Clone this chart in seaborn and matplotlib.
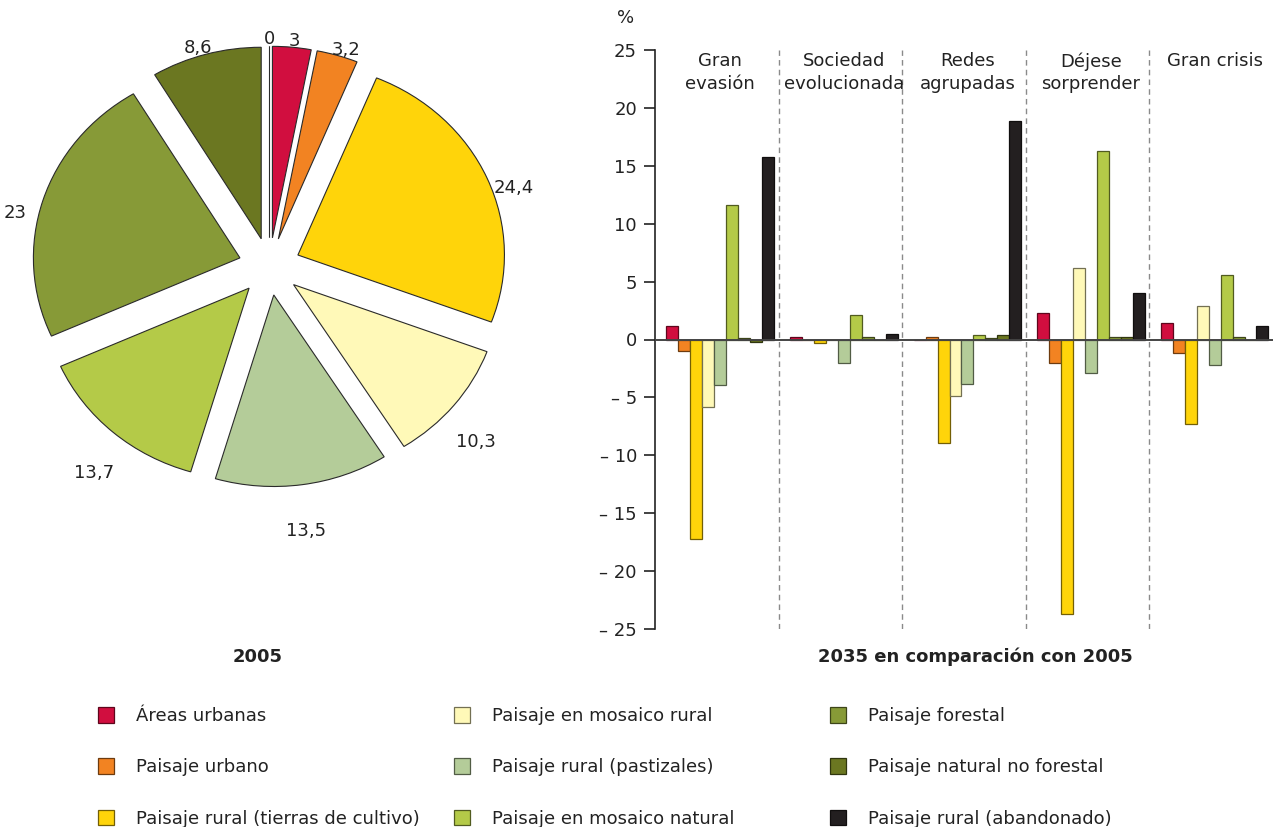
import numpy as np
import pandas as pd
import matplotlib
matplotlib.use("Agg")
import matplotlib.pyplot as plt
import matplotlib.colors as mcolors
from matplotlib.patches import Patch
import matplotlib.transforms as mtransforms
import seaborn as sns

# ---------------- data ----------------
categories = [
    "Áreas urbanas",
    "Paisaje urbano",
    "Paisaje rural (tierras de cultivo)",
    "Paisaje en mosaico rural",
    "Paisaje rural (pastizales)",
    "Paisaje en mosaico natural",
    "Paisaje forestal",
    "Paisaje natural no forestal",
    "Paisaje rural (abandonado)",
]
colors = ["#D10E3F", "#F28322", "#FFD40A", "#FFF9B8", "#B4CC99",
          "#B4CA48", "#879A37", "#6B7721", "#231F20"]

pie_values_2005 = [3, 3.2, 24.4, 10.3, 13.5, 13.7, 23, 8.6, 0]

scenarios = ["Gran\nevasión", "Sociedad\nevolucionada", "Redes\nagrupadas",
             "Déjese\nsorprender", "Gran crisis"]

areas_urbanas       = [1.2, 0.2, 0.0, 2.3, 1.4]
paisaje_urbano      = [-1.0, 0.0, 0.2, -2.0, -1.2]
tierras_cultivo     = [-17.2, -0.3, -8.9, -23.7, -7.3]
mosaico_rural       = [-5.8, 0.0, -4.9, 6.2, 2.9]
pastizales          = [-3.9, -2.0, -3.8, -2.9, -2.2]
mosaico_natural     = [11.6, 2.1, 0.4, 16.3, 5.6]
forestal            = [0.1, 0.2, 0.1, 0.2, 0.2]
natural_no_forestal = [-0.2, 0.0, 0.4, 0.2, 0.0]
abandonado          = [15.8, 0.5, 18.9, 4.0, 1.2]

series = [areas_urbanas, paisaje_urbano, tierras_cultivo, mosaico_rural,
          pastizales, mosaico_natural, forestal, natural_no_forestal, abandonado]

yticks = [-25, -20, -15, -10, -5, 0, 5, 10, 15, 20, 25]
ytick_labels = ["– 25", "– 20", "– 15", "– 10", "– 5", "0", "5", "10", "15", "20", "25"]

title_pie = "2005"
title_bar = "2035 en comparación con 2005"

# ---------------- style ----------------
sns.set_theme(style="white")
plt.rcParams["font.family"] = ["DejaVu Sans"]
plt.rcParams["font.sans-serif"] = ["DejaVu Sans"]
plt.rcParams["text.color"] = "#222222"
plt.rcParams["ytick.color"] = "#222222"
TXT = "#222222"
FS = 13


def darken(c, f=0.45):
    r, g, b = mcolors.to_rgb(c)
    return (r * f, g * f, b * f)


W, H = 1276, 827
fig = plt.figure(figsize=(W / 100, H / 100), dpi=100)

# ---------------- pie ----------------
ax_pie = fig.add_axes([1 / W, 1 - 515.5 / H, 537 / W, 498 / H])
pie_labels = [f"{v:g}".replace(".", ",") for v in pie_values_2005]
wedges, texts = ax_pie.pie(
    pie_values_2005, colors=colors, explode=[0.15] * len(pie_values_2005),
    startangle=90, counterclock=False, labels=pie_labels, labeldistance=1.14,
    wedgeprops=dict(edgecolor="#2a2a2a", linewidth=0.8),
    textprops=dict(fontsize=FS, color=TXT),
)
label_offset = mtransforms.ScaledTranslation(0, -0.20, fig.dpi_scale_trans)
for t in texts:
    t.set_horizontalalignment("center")
    t.set_verticalalignment("center")
    t.set_transform(ax_pie.transData + label_offset)
ax_pie.set_aspect("auto")
ax_pie.set_xlim(-1.3, 1.3)
ax_pie.set_ylim(-1.3, 1.3)
ax_pie.axis("off")

# ---------------- bars ----------------
rows = []
for cat, vals in zip(categories, series):
    for sc, v in zip(scenarios, vals):
        rows.append({"escenario": sc, "categoria": cat, "valor": v})
df = pd.DataFrame(rows)

ax = fig.add_axes([655 / W, 1 - 629 / H, 618 / W, 579 / H])
sns.barplot(data=df, x="escenario", y="valor", hue="categoria",
            order=scenarios, hue_order=categories, palette=colors,
            width=0.87, saturation=1, errorbar=None, legend=False, ax=ax,
            linewidth=0.9, zorder=2)
for p in ax.patches:
    p.set_edgecolor(darken(p.get_facecolor()))
    p.set_linewidth(0.9)

shift = 0.028
ax.set_xlim(-0.5 - shift, len(scenarios) - 0.5 - shift)
ax.set_ylim(-25, 25)
ax.set_yticks(yticks)
ax.set_yticklabels(ytick_labels)
ax.tick_params(axis="y", left=True, direction="out", length=8, width=1.2,
               color="#222222", labelsize=FS, pad=5)
ax.set_xticks([])
ax.set_xlabel("")
ax.set_ylabel("")
sns.despine(ax=ax, top=True, right=True, bottom=True)
ax.spines["left"].set_color("#222222")
ax.spines["left"].set_linewidth(1.2)
ax.axhline(0, color="#444444", lw=1.4, zorder=3)

for i in range(len(scenarios) - 1):
    ax.axvline(i + 0.5 - shift, color="#8a8a8a", lw=1.0,
               linestyle=(0, (4, 3)), zorder=1)

trans = mtransforms.blended_transform_factory(ax.transData, ax.transAxes)
for i, sc in enumerate(scenarios):
    ax.text(i, 0.996, sc, transform=trans, ha="center", va="top",
            fontsize=FS, color=TXT, linespacing=1.3)

ax.text(-0.048, 1.055, "%", transform=ax.transAxes, ha="center", va="center",
        fontsize=FS, color=TXT)

# ---------------- titles ----------------
fig.text(258 / W, 1 - 657 / H, title_pie, ha="center", va="center",
         fontsize=FS, fontweight="bold", color=TXT)
fig.text(975 / W, 1 - 657 / H, title_bar, ha="center", va="center",
         fontsize=FS, fontweight="bold", color=TXT)

# ---------------- legend (3 columns) ----------------
handles = [Patch(facecolor=c, edgecolor=darken(c), linewidth=0.9) for c in colors]
col_x = [98 / W, 454 / W, 830 / W]
for k in range(3):
    idx = range(3 * k, 3 * k + 3)
    fig.legend([handles[i] for i in idx], [categories[i] for i in idx],
               loc="upper left", bbox_to_anchor=(col_x[k], 1 - 707 / H),
               frameon=False, fontsize=FS, handlelength=0.9, handleheight=0.95,
               handletextpad=1.2, labelspacing=1.85, borderpad=0,
               borderaxespad=0, labelcolor=TXT)

fig.savefig("out.png", dpi=100)
